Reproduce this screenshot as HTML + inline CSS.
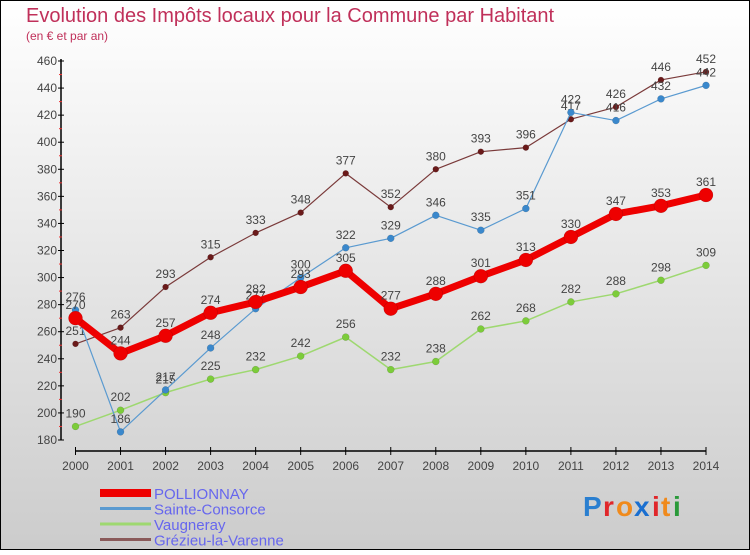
<!DOCTYPE html>
<html><head><meta charset="utf-8"><style>
body{margin:0;width:750px;height:550px;overflow:hidden;font-family:"Liberation Sans",sans-serif}
</style></head><body>
<svg width="750" height="550" viewBox="0 0 750 550" font-family="Liberation Sans, sans-serif">
<defs><linearGradient id="bg" x1="0" y1="0" x2="0" y2="1"><stop offset="0" stop-color="#ffffff"/><stop offset="1" stop-color="#cccccc"/></linearGradient></defs>
<rect x="0.5" y="0.5" width="749" height="549" fill="url(#bg)" stroke="#000"/>
<text x="26" y="22" font-size="20" fill="#c0305a">Evolution des Impôts locaux pour la Commune par Habitant</text>
<text x="26" y="40" font-size="12" fill="#c0305a">(en € et par an)</text>
<g id="axes"></g>
<g id="series"></g>
<g id="legend"></g>
<g font-size="28" font-weight="bold">
<text x="583" y="516" fill="#2a7fd0">P</text><text x="603" y="516" fill="#e0262a">r</text><text x="616" y="516" fill="#f08a1c">o</text><text x="634" y="516" fill="#1a6fd0">x</text><text x="652" y="516" fill="#e0262a">i</text><text x="661" y="516" fill="#f08a1c">t</text><text x="673" y="516" fill="#2a9a3a">i</text>
</g>
</svg>
<script>
const years=[2000,2001,2002,2003,2004,2005,2006,2007,2008,2009,2010,2011,2012,2013,2014];
const yTicks=[180,200,220,240,260,280,300,320,340,360,380,400,420,440,460];
const pollionnay=[270,244,257,274,282,293,305,277,288,301,313,330,347,353,361];
const sainteConsorce=[276,186,217,248,277,300,322,329,346,335,351,422,416,432,442];
const vaugneray=[190,202,215,225,232,242,256,232,238,262,268,282,288,298,309];
const grezieu=[251,263,293,315,333,348,377,352,380,393,396,417,426,446,452];
const seriesNames=["POLLIONNAY","Sainte-Consorce","Vaugneray","Grézieu-la-Varenne"];
const NS="http://www.w3.org/2000/svg";
const x=i=>75.5+i*(706-75.5)/(years.length-1);
const y=v=>440-(v-180)*(440-61)/280;
function mk(t,a,p){const e=document.createElementNS(NS,t);for(const k in a)e.setAttribute(k,a[k]);p.appendChild(e);return e;}
const ax=document.getElementById('axes');
let yl=mk('line',{x1:61,y1:59,x2:61,y2:440,stroke:'#000','stroke-width':1.5},ax);


let xl=mk('line',{x1:75.5,y1:451,x2:706,y2:451,stroke:'#000','stroke-width':1.5},ax);


yTicks.forEach((v,i)=>{
 mk('line',{x1:58,x2:64,y1:y(v),y2:y(v),stroke:'#000'},ax);
 if(i<yTicks.length-1)mk('line',{x1:59,x2:62,y1:y(v+10),y2:y(v+10),stroke:'#e33'},ax);
 const t=mk('text',{x:57,y:y(v)+4,'font-size':12,fill:'#444','text-anchor':'end'},ax);t.textContent=v;
 
 
});
years.forEach((yr,i)=>{
 mk('line',{x1:x(i),x2:x(i),y1:447,y2:455,stroke:'#000'},ax);
 const t=mk('text',{x:x(i),y:470,'font-size':12,fill:'#444','text-anchor':'middle'},ax);t.textContent=yr;
 
 
});
const sg=document.getElementById('series');
function draw(data,color,dot,w,r,name){
 const g=mk('g',{},sg);
 
 
 const pl=mk('polyline',{points:data.map((v,i)=>x(i)+','+y(v)).join(' '),fill:'none',stroke:color,'stroke-width':w,'stroke-linejoin':'round'},g);
 
 
 data.forEach((v,i)=>{
  const c=mk('circle',{cx:x(i),cy:y(v),r:r,fill:dot,stroke:'#0003','stroke-width':0.5},g);
  
  
  const t=mk('text',{x:x(i),y:y(v)-9,'font-size':12,fill:'#444','text-anchor':'middle'},g);t.textContent=v;
  
  
 });
}
draw(grezieu,'#7a3a3a','#6a1a1a',1.2,3,'grezieu-series');
draw(vaugneray,'#9ed870','#7ccc3a',1.5,3.5,'vaugneray-series');
draw(sainteConsorce,'#5a9ad0','#3a88cc',1.2,3.5,'sainte-consorce-series');
draw(pollionnay,'#ee0000','#ee0000',7,7,'pollionnay-series');
const lg=document.getElementById('legend');
const lcols=['#ee0000','#5a9ad0','#9ed870','#8a5a5a'];
const lw=[8,3,3,3];
seriesNames.forEach((n,i)=>{
 const yy=493+i*15.5;
 const l=mk('line',{x1:100,x2:151,y1:yy,y2:yy,stroke:lcols[i],'stroke-width':lw[i]},lg);
 
 
 const t=mk('text',{x:154,y:yy+6,'font-size':15,fill:'#6666ee'},lg);t.textContent=n;
 
 
});
</script>
</body></html>
